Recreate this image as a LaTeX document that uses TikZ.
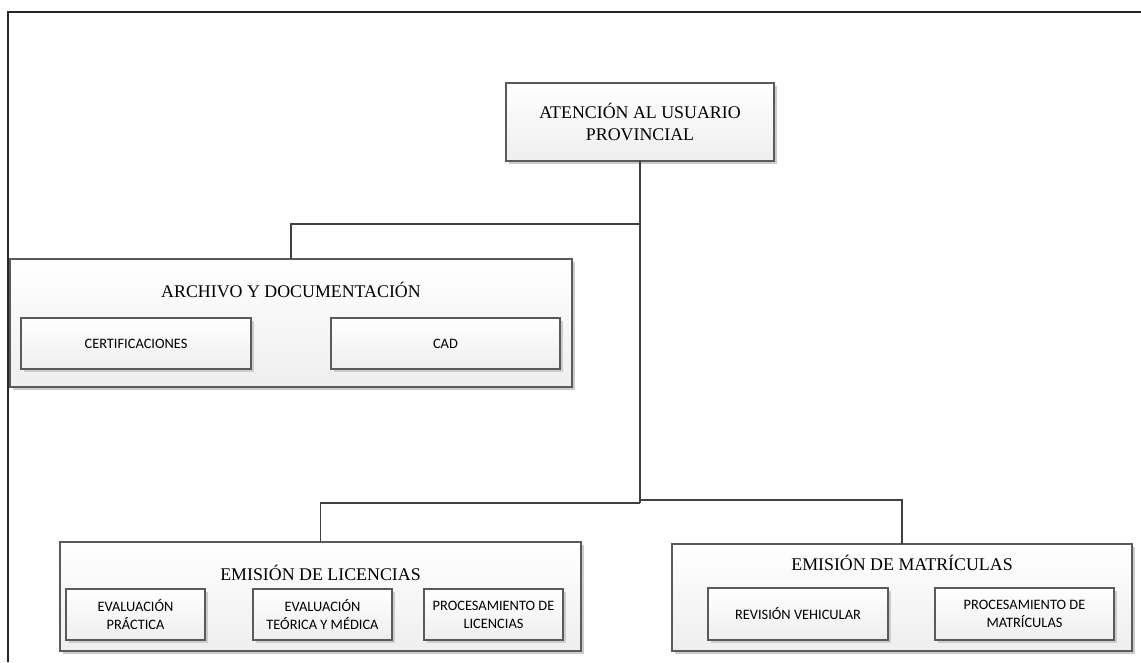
\documentclass[tikz,border=0pt]{standalone}
\usepackage{fontspec}
\setmainfont{Liberation Serif}
\newfontfamily\subfont{Carlito}
\usetikzlibrary{fit,shadows}
\definecolor{edge}{HTML}{5A5A5A}
\definecolor{connc}{HTML}{404040}
\tikzset{
  pbox/.style={draw=edge, line width=0.8pt, inner sep=0pt, outer sep=0pt,
    top color=white, bottom color=gray!13,
    drop shadow={fill=black!20, shadow xshift=2.2pt, shadow yshift=-2.2pt, opacity=1},
    align=center},
  subbox/.style={pbox},
  ttl/.style={font=\fontsize{13.4}{17}\selectfont, inner sep=0pt, align=center},
  stxt/.style={font=\subfont\fontsize{10.8}{13.5}\selectfont, inner sep=0pt, align=center},
  conn/.style={draw=connc, line width=1.1pt},
  frame/.style={draw=black!85, line width=1.3pt}
}
\begin{document}
\begin{tikzpicture}[x=0.75pt, y=-0.75pt]
\useasboundingbox (0,0) rectangle (1141,662);
\draw[frame] (8,662) -- (8,12) -- (1141,12);

% top
\node[pbox, fit={(506,83) (774,161)}] (top) {};
\node[ttl] (toptxt) at (640,122) {ATENCIÓN AL USUARIO\\PROVINCIAL};

% archive
\node[pbox, fit={(10,259) (572,387)}] (arch) {};
\node[ttl] (archtxt) at (291,290) {ARCHIVO Y DOCUMENTACIÓN};
\node[subbox, fit={(21,318) (251,369)}] (cert) {};
\node[stxt] (certtxt) at (cert.center) {CERTIFICACIONES};
\node[subbox, fit={(331,318) (560,369)}] (cad) {};
\node[stxt] (cadtxt) at (cad.center) {CAD};

% licencias
\node[pbox, fit={(60,542) (581,651)}] (lic) {};
\node[ttl] (lictxt) at (320.5,573) {EMISIÓN DE LICENCIAS};
\node[subbox, fit={(66,589) (205,640)}] (l1) {};
\node[stxt] (l1txt) at (l1.center) {EVALUACIÓN\\PRÁCTICA};
\node[subbox, fit={(253,589) (392,640)}] (l2) {};
\node[stxt] (l2txt) at (l2.center) {EVALUACIÓN\\TEÓRICA Y MÉDICA};
\node[subbox, fit={(424,589) (563,640)}] (l3) {};
\node[stxt] (l3txt) at (l3.center) {PROCESAMIENTO DE\\LICENCIAS};

% matriculas
\node[pbox, fit={(672,544) (1132,651)}] (mat) {};
\node[ttl] (mattxt) at (902,563) {EMISIÓN DE MATRÍCULAS};
\node[subbox, fit={(708,588) (888,640)}] (m1) {};
\node[stxt] (m1txt) at (m1.center) {REVISIÓN VEHICULAR};
\node[subbox, fit={(935,588) (1114,640)}] (m2) {};
\node[stxt] (m2txt) at (m2.center) {PROCESAMIENTO DE\\MATRÍCULAS};

% connectors
\coordinate (j1) at (640,224);
\coordinate (j2) at (640,503);
\coordinate (j3) at (640,500);
\draw[conn] (top.south) -- (j2);
\draw[conn] (j1) -| (arch.north);
\draw[conn] (j2) -| (lic.north);
\draw[conn] (j3) -| (mat.north);
\end{tikzpicture}
\end{document}
